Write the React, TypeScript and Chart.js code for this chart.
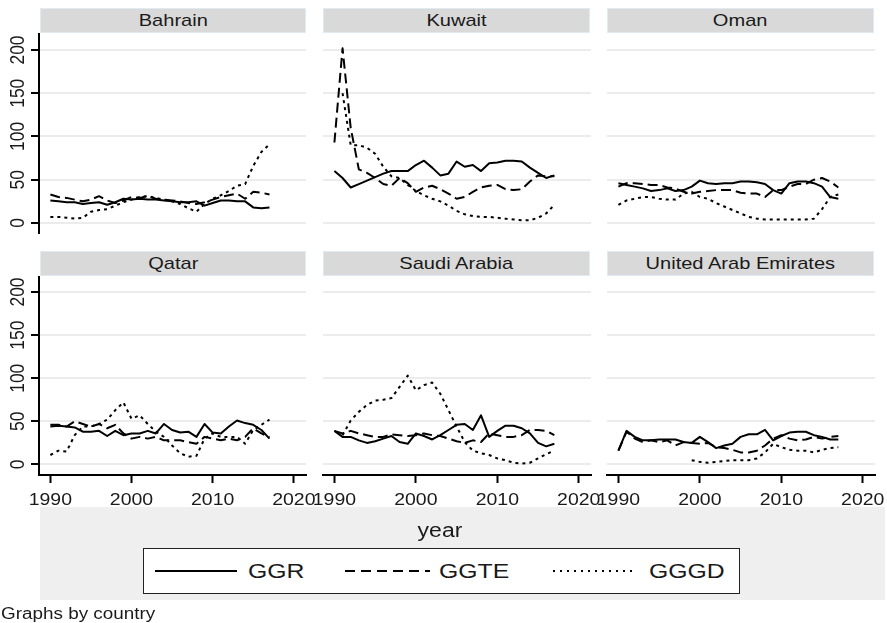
import React, { useEffect, useRef } from "react";
import { Chart, registerables } from "chart.js";
Chart.register(...registerables);

// ---------------- data ----------------
const years = [1990, 1991, 1992, 1993, 1994, 1995, 1996, 1997, 1998, 1999, 2000, 2001, 2002, 2003, 2004, 2005, 2006, 2007, 2008, 2009, 2010, 2011, 2012, 2013, 2014, 2015, 2016, 2017];
const countries = ["Bahrain", "Kuwait", "Oman", "Qatar", "Saudi Arabia", "United Arab Emirates"];
const seriesNames = ["GGR", "GGTE", "GGGD"];
const xTickLabels = [1990, 2000, 2010, 2020];
const yTickLabels = [0, 50, 100, 150, 200];
const xAxisTitle = "year";
const noteText = "Graphs by country";

const bahrainGGR = [26, 25, 24, 24, 22, 23, 24, 21, 24, 28, 27, 28, 27, 27, 26, 25, 24, 24, 25, 20, 23, 26, 26, 25, 25, 18, 17, 18];
const bahrainGGTE = [33, 30, 29, 27, 25, 27, 31, 26, 23, 26, 30, 29, 31, 28, 27, 26, 25, 23, 22, 24, 27, 30, 32, 34, 28, 36, 35, 33];
const bahrainGGGD = [7, 7, 6, 5, 6, 13, 15, 16, 20, 24, 27, 30, 31, 29, 27, 25, 22, 17, 13, 22, 28, 32, 37, 43, 45, 66, 82, 91];

const kuwaitGGR = [60, 52, 41, 45, 49, 53, 57, 60, 60, 60, 67, 72, 64, 55, 57, 71, 65, 67, 60, 69, 70, 72, 72, 71, 64, 58, 52, 55];
const kuwaitGGTE = [93, 202, 110, 62, 58, 52, 45, 43, 52, 46, 36, 41, 43, 39, 34, 28, 30, 36, 41, 43, 44, 39, 38, 39, 48, 55, 54, 54];
const kuwaitGGGD = [null, 150, 90, 90, 87, 80, 65, 54, 52, 44, 37, 32, 28, 25, 20, 14, 10, 8, 7, 7, 6, 5, 4, 3, 3, 6, 11, 21];

const omanGGR = [46, 44, 42, 40, 37, 38, 40, 37, 38, 42, 49, 46, 45, 46, 46, 48, 48, 47, 45, 38, 34, 46, 48, 48, 46, 42, 30, 28];
const omanGGTE = [42, 46, 46, 45, 44, 44, 41, 40, 36, 34, 36, 37, 38, 38, 38, 35, 34, 34, 30, 38, 38, 42, 45, 45, 50, 52, 48, 41];
const omanGGGD = [21, 26, 28, 30, 30, 28, 27, 27, 34, 36, 30, 28, 23, 19, 15, 11, 7, 5, 4, 4, 4, 4, 4, 4, 5, 16, 30, 33];

const qatarGGR = [44, 45, 44, 43, 38, 38, 39, 33, 39, 34, 36, 36, 39, 36, 47, 40, 37, 38, 32, 47, 37, 36, 44, 51, 48, 46, 40, 30];
const qatarGGTE = [46, 46, 44, 50, 47, 44, 47, 42, 46, 36, 30, 32, 30, 32, 28, 28, 28, 26, 24, 32, 30, 28, 30, 28, 32, 42, 36, 32];
const qatarGGGD = [11, 16, 15, 34, 44, 44, 47, 52, 63, 72, 53, 57, 47, 38, 32, 22, 13, 9, 10, 30, 36, 32, 32, 32, 24, 40, 46, 52];

const saudiGGR = [39, 32, 32, 28, 25, 27, 30, 33, 26, 24, 36, 33, 29, 34, 40, 46, 47, 40, 57, 32, 39, 45, 45, 42, 36, 25, 21, 24];
const saudiGGTE = [39, 36, 39, 36, 34, 32, 32, 35, 34, 33, 34, 36, 34, 33, 30, 27, 25, 28, 26, 36, 34, 32, 32, 34, 40, 40, 39, 34];
const saudiGGGD = [null, 34, 51, 61, 69, 74, 75, 77, 90, 103, 86, 92, 95, 82, 63, 44, 26, 16, 13, 11, 7, 5, 2, 1, 2, 7, 12, 16];

const uaeGGR = [16, 39, 32, 28, 28, 29, 29, 29, 26, 25, 32, 26, 19, 22, 24, 32, 35, 35, 40, 28, 33, 37, 38, 38, 34, 32, 29, 29];
const uaeGGTE = [16, 38, 30, 26, 28, 26, 28, 22, 26, 25, 24, 25, 20, 19, 17, 14, 14, 16, 22, 30, 34, 30, 28, 29, 32, 30, 32, 33];
const uaeGGGD = [null, null, null, null, null, null, null, null, null, 5, 3, 2, 3, 4, 5, 5, 5, 7, 14, 24, 20, 17, 16, 16, 14, 17, 19, 20];

const panelSeries = [
  [bahrainGGR, bahrainGGTE, bahrainGGGD],
  [kuwaitGGR, kuwaitGGTE, kuwaitGGGD],
  [omanGGR, omanGGTE, omanGGGD],
  [qatarGGR, qatarGGTE, qatarGGGD],
  [saudiGGR, saudiGGTE, saudiGGGD],
  [uaeGGR, uaeGGTE, uaeGGGD],
];

// ---------------- layout / style ----------------
const W = 887;
const H = 623;
const FONT = '"Liberation Sans", Arial, sans-serif';
const STRETCH = 1.18;
const colLeft = [39, 323, 607];
const colRight = [306, 591, 875];
const rowTop = [34, 277];
const rowBottom = [233, 475];
const yRanges = [[-11.6, 218.5], [-12.2, 217.4]];
const xRange = [1988.6, 2021.5];
const XAXIS_H = 40;
const dashes = [[], [10, 5], [3, 4]];
const legendDashes = ["", "10 6", "2 5"];

function Panel({ idx }: { idx: number }) {
  const ref = useRef<HTMLCanvasElement>(null);
  useEffect(() => {
    const r = Math.floor(idx / 3);
    const c = idx % 3;
    const series = panelSeries[idx];
    const labelPlugin = {
      id: "stataLabels" + idx,
      afterDraw(chart: any) {
        const ctx: CanvasRenderingContext2D = chart.ctx;
        ctx.save();
        ctx.fillStyle = "#1a1a1a";
        ctx.textAlign = "center";
        ctx.textBaseline = "alphabetic";
        if (c === 0) {
          const fs = 17.5;
          ctx.font = `${fs}px ${FONT}`;
          yTickLabels.forEach((v) => {
            const py = chart.scales.y.getPixelForValue(v);
            ctx.save();
            ctx.translate(16.5, py);
            ctx.rotate(-Math.PI / 2);
            ctx.scale(1, STRETCH);
            ctx.fillText(String(v), 0, (0.716 * fs) / 2);
            ctx.restore();
          });
        }
        if (r === 1) {
          const fs = 16.5;
          ctx.font = `${fs}px ${FONT}`;
          xTickLabels.forEach((v) => {
            const px = chart.scales.x.getPixelForValue(v);
            ctx.save();
            ctx.translate(px, 505);
            ctx.scale(STRETCH, 1);
            ctx.fillText(String(v), 0, 0);
            ctx.restore();
          });
        }
        ctx.restore();
      },
    };
    const chart = new Chart(ref.current as HTMLCanvasElement, {
      type: "line",
      data: {
        datasets: series.map((vals, si) => ({
          label: seriesNames[si],
          data: years.map((yr, i) => ({ x: yr, y: vals[i] })),
          borderColor: "#000",
          borderWidth: 2,
          borderDash: dashes[si],
          borderJoinStyle: "round",
          pointRadius: 0,
          fill: false,
          tension: 0,
          spanGaps: false,
        })),
      },
      options: {
        animation: false,
        responsive: false,
        devicePixelRatio: 1,
        events: [],
        layout: {
          padding: {
            left: c === 0 ? 0 : colLeft[c],
            right: W - colRight[c],
            top: rowTop[r],
            bottom: r === 1 ? H - rowBottom[r] - XAXIS_H : H - rowBottom[r],
          },
        },
        plugins: { legend: { display: false }, tooltip: { enabled: false }, title: { display: false } },
        scales: {
          x: {
            type: "linear",
            min: xRange[0],
            max: xRange[1],
            display: r === 1,
            afterBuildTicks: (s: any) => {
              s.ticks = xTickLabels.map((v) => ({ value: v }));
            },
            afterFit: (s: any) => {
              s.height = r === 1 ? XAXIS_H : 0;
            },
            ticks: { display: false, callback: () => "" },
            grid: { drawOnChartArea: false, drawTicks: true, tickLength: 8, tickColor: "#000", tickWidth: 2 },
            border: { display: true, color: "#000", width: 2 },
          },
          y: {
            type: "linear",
            min: yRanges[r][0],
            max: yRanges[r][1],
            afterBuildTicks: (s: any) => {
              s.ticks = yTickLabels.map((v) => ({ value: v }));
            },
            afterFit: (s: any) => {
              s.width = c === 0 ? colLeft[0] : 0;
            },
            ticks: { display: false, callback: () => "" },
            grid: {
              color: "#ececec",
              lineWidth: 2,
              drawTicks: c === 0,
              tickLength: 8,
              tickColor: "#000",
              tickWidth: 2,
            },
            border: { display: c === 0, color: "#000", width: 2 },
          },
        },
      } as any,
      plugins: [labelPlugin],
    });
    return () => chart.destroy();
  }, [idx]);
  return (
    <canvas
      ref={ref}
      width={W}
      height={H}
      style={{ position: "absolute", left: 0, top: 0, width: W, height: H }}
    />
  );
}

const titleLeft = [40, 323, 607];
const titleWidth = [266, 267, 267];
const titleTop = [8, 251];

function StretchText({ text, size, style }: { text: string; size: number; style: any }) {
  return (
    <div style={{ position: "absolute", whiteSpace: "nowrap", font: `${size}px ${FONT}`, color: "#1a1a1a", ...style }}>
      <span style={{ display: "inline-block", transform: `scaleX(${STRETCH})`, transformOrigin: style.textAlign === "center" ? "center" : "left center" }}>
        {text}
      </span>
    </div>
  );
}

export default function App() {
  const legendX = [[155, 237], [345, 430], [553, 635]];
  const legendTextX = [248, 439, 649];
  return (
    <div style={{ position: "absolute", left: 0, top: 0, width: W, height: H, background: "#fff", overflow: "hidden" }}>
      <div style={{ position: "absolute", left: 40, top: 507, width: 845, height: 93, background: "#efefef" }} />
      {countries.map((name, i) => {
        const r = Math.floor(i / 3);
        const c = i % 3;
        return (
          <div
            key={name}
            style={{
              position: "absolute",
              left: titleLeft[c],
              top: titleTop[r],
              width: titleWidth[c],
              height: 25,
              boxSizing: "border-box",
              background: "#d9d9d9",
              border: "1px solid #dfeaf2",
              textAlign: "center",
              font: `17px ${FONT}`,
              lineHeight: "24px",
              color: "#1a1a1a",
            }}
          >
            <span style={{ display: "inline-block", transform: `scaleX(${STRETCH})` }}>{name}</span>
          </div>
        );
      })}
      {countries.map((name, i) => (
        <Panel key={"p" + name} idx={i} />
      ))}
      <StretchText text={xAxisTitle} size={19.5} style={{ left: 340, width: 200, top: 518, lineHeight: "24px", textAlign: "center" }} />
      <div
        style={{
          position: "absolute",
          left: 143,
          top: 548,
          width: 597,
          height: 46,
          boxSizing: "border-box",
          border: "1.5px solid #222",
          background: "#fff",
        }}
      />
      <svg width={W} height={H} style={{ position: "absolute", left: 0, top: 0 }}>
        {seriesNames.map((s, i) => (
          <line
            key={s}
            x1={legendX[i][0]}
            x2={legendX[i][1]}
            y1={571}
            y2={571}
            stroke="#000"
            strokeWidth={2}
            strokeDasharray={legendDashes[i] || undefined}
          />
        ))}
      </svg>
      {seriesNames.map((s, i) => (
        <StretchText key={"t" + s} text={s} size={21} style={{ left: legendTextX[i], top: 560, lineHeight: "22px" }} />
      ))}
      <StretchText text={noteText} size={16} style={{ left: 1, top: 605, lineHeight: "18px" }} />
    </div>
  );
}
